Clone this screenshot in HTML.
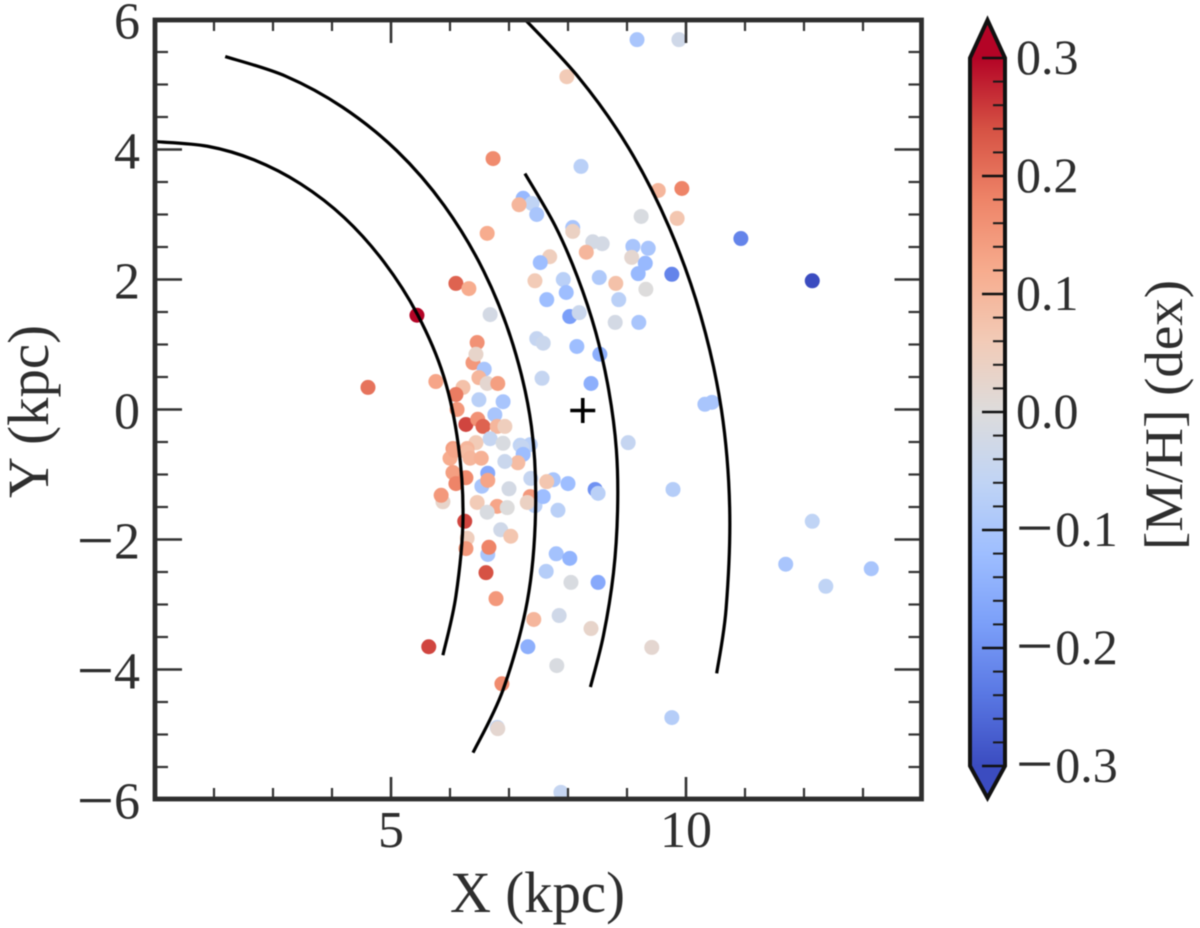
<!DOCTYPE html>
<html>
<head>
<meta charset="utf-8">
<title>Metallicity map</title>
<style>
html,body{margin:0;padding:0;background:#fff;width:1200px;height:928px;overflow:hidden}
svg{display:block;filter:blur(0.55px)}
text{font-family:"Liberation Serif",serif;fill:#2e2e2e}
</style>
</head>
<body>
<svg id="chart" width="1200" height="928" viewBox="0 0 1200 928" xmlns="http://www.w3.org/2000/svg">
<defs>
<clipPath id="plot-clip"><rect x="155" y="20" width="767" height="779"/></clipPath>
<linearGradient id="cbar-gradient" x1="0" y1="1" x2="0" y2="0"></linearGradient>
</defs>
<g id="points" clip-path="url(#plot-clip)"></g>
<g id="arms" clip-path="url(#plot-clip)"></g>
<g id="sun"></g>
<g id="axes"></g>
<g id="cbar"></g>
<text x="450" y="912" font-size="58" textLength="175" lengthAdjust="spacingAndGlyphs">X (kpc)</text>
<text transform="translate(48,498) rotate(-90)" font-size="58" textLength="173" lengthAdjust="spacingAndGlyphs">Y (kpc)</text>
<text transform="translate(1182,550) rotate(-90)" font-size="54" textLength="270" lengthAdjust="spacingAndGlyphs">[M/H] (dex)</text>
</svg>
<script>
const starX = [6.63,6.10,6.32,5.44,6.68,6.46,6.39,6.44,6.58,6.49,
6.63,6.81,5.76,4.61,6.22,6.10,6.49,6.90,6.12,6.76,
6.27,6.47,6.56,6.80,6.93,6.44,6.68,6.90,7.19,7.36,
6.05,6.29,7.56,7.47,7.58,8.15,8.54,8.39,9.02,7.44,
7.69,7.53,7.92,7.97,7.64,8.03,8.19,8.08,8.08,8.42,
8.58,8.31,9.10,9.36,9.08,9.31,9.19,8.53,8.81,9.32,
8.86,8.80,9.20,10.93,9.85,9.24,9.76,9.17,9.88,7.98,
6.73,8.22,9.53,9.93,7.24,7.39,7.17,7.47,12.14,7.22,
7.24,7.15,6.93,6.00,6.08,6.29,6.34,6.53,6.05,6.27,
6.10,6.64,6.54,6.64,7.00,7.37,7.75,7.64,8.00,8.46,
8.51,9.78,5.88,5.85,6.46,6.80,6.63,6.97,7.44,7.36,
7.58,7.31,7.83,6.25,6.86,7.03,6.29,6.27,6.64,6.66,
7.80,8.03,7.63,6.61,8.51,8.05,6.78,7.42,7.85,8.39,
5.64,7.32,9.42,7.81,6.88,6.80,6.81,7.88,9.76,12.14,
11.69,13.14,12.37,10.32,10.44];
const starY = [2.71,1.94,1.86,1.45,1.46,1.03,0.72,0.85,0.62,0.49,
0.40,0.40,0.43,0.34,0.34,0.23,0.15,0.12,0,-0.08,
-0.23,-0.15,-0.26,-0.26,-0.26,-0.51,-0.45,-0.52,-0.55,-0.54,
-0.60,-0.60,0.48,1.09,1.02,0.97,0.85,0.40,-0.51,1.98,
2.35,2.26,2.00,1.80,1.69,1.43,1.49,2.80,2.74,2.58,
2.55,2.42,2.51,2.48,2.34,2.25,2.09,2.03,1.94,1.85,
1.69,1.34,1.34,2.63,2.94,2.97,2.08,5.69,5.69,5.12,
3.86,3.74,3.37,3.40,3.25,3.17,3.15,3.00,1.98,-0.58,
-0.69,-0.82,-0.80,-0.75,-0.63,-0.66,-0.75,-0.75,-0.97,-1.05,
-1.14,-0.98,-1.18,-1.09,-1.22,-1.06,-1.08,-1.11,-1.14,-1.23,
-1.29,-1.23,-1.42,-1.32,-1.43,-1.49,-1.58,-1.51,-1.48,-1.34,
-1.34,-1.43,-1.55,-1.72,-1.85,-1.95,-1.98,-2.14,-2.23,-2.12,
-2.22,-2.29,-2.49,-2.51,-2.66,-2.66,-2.91,-3.23,-3.17,-3.37,
-3.65,-3.65,-3.66,-3.94,-4.22,-4.89,-4.91,-5.89,-4.74,-1.72,
-2.38,-2.45,-2.72,0.08,0.11];
const starMH = [0.12,0.22,0.12,0.30,-0.02,0.16,0.15,0.03,-0.10,0.10,
0.02,0.14,0.13,0.20,0.08,0.19,-0.07,-0.10,0.15,-0.10,
0.25,0.16,0.22,0.10,0.05,0.06,-0.05,-0.01,-0.06,-0.07,
0.14,0.10,-0.05,-0.05,-0.04,-0.12,-0.15,-0.15,-0.05,0.06,
0.05,-0.12,-0.07,-0.12,-0.12,-0.18,-0.04,-0.10,0.04,-0.02,
-0.02,0.10,-0.10,-0.10,0.02,-0.13,-0.13,-0.09,0.08,0,
-0.07,-0.02,-0.10,-0.22,0.07,-0.01,-0.22,-0.10,-0.03,0.06,
0.17,-0.07,0.10,0.18,-0.13,-0.06,0.10,-0.10,-0.30,-0.05,
-0.12,0.09,-0.04,0.12,0.13,0.09,0.10,0.11,0.14,0.17,
0.18,-0.16,-0.10,0.13,-0.02,-0.05,-0.10,0.07,-0.12,-0.20,
-0.07,-0.08,0.03,0.15,0.06,0.13,-0.01,0,-0.07,0.15,
-0.12,0.04,-0.07,0.25,-0.03,0.07,0.05,0.15,-0.10,0.18,
-0.11,-0.14,-0.08,0.24,-0.16,-0.01,0.15,0.10,-0.03,0.03,
0.25,-0.15,0.02,-0.01,0.17,-0.05,0.02,-0.05,-0.08,-0.06,
-0.10,-0.10,-0.06,-0.10,-0.10];

const arm1X = [1.03,1.89,2.68,3.47,4.21,4.88,5.45,5.89,6.14,6.22,6.10,5.88];
const arm1Y = [4.12,4.05,3.84,3.47,2.95,2.27,1.46,0.52,-0.54,-1.68,-2.87,-3.78];
const arm2X = [2.19,3.21,4.18,5.10,5.90,6.57,7.07,7.38,7.45,7.31,6.90,6.39];
const arm2Y = [5.43,5.13,4.65,3.98,3.14,2.13,0.99,-0.26,-1.58,-2.95,-4.31,-5.28];
const arm3X = [7.27,7.78,8.16,8.47,8.69,8.82,8.84,8.77,8.60,8.38];
const arm3Y = [3.63,2.83,2.04,1.19,0.30,-0.62,-1.56,-2.52,-3.48,-4.27];
const arm4X = [7.09,8.18,9.03,9.72,10.25,10.60,10.74,10.68,10.52];
const arm4Y = [6.17,5.11,4.02,2.79,1.44,0,-1.51,-3.06,-4.06];

const sunX = 8.25;
const sunY = 0;

const xMajorTicks = [5,10];
const xTickLabels = ['5','10'];
const xMinorTicks = [2,3,4,6,7,8,9,11,12,13];
const yMajorTicks = [-6,-4,-2,0,2,4,6];
const yTickLabels = ['\u22126','\u22124','\u22122','0','2','4','6'];
const yMinorTicks = [-5.5,-5,-4.5,-3.5,-3,-2.5,-1.5,-1,-0.5,0.5,1,1.5,2.5,3,3.5,4.5,5,5.5];
const cbarMajorTicks = [-0.3,-0.2,-0.1,0,0.1,0.2,0.3];
const cbarTickLabels = ['\u22120.3','\u22120.2','\u22120.1','0.0','0.1','0.2','0.3'];
const cbarMinorTicks = [-0.28,-0.26,-0.24,-0.22,-0.18,-0.16,-0.14,-0.12,-0.08,-0.06,-0.04,-0.02,0.02,0.04,0.06,0.08,0.12,0.14,0.16,0.18,0.22,0.24,0.26,0.28];
const coolwarmStops = ['#3b4cc0','#5977e3','#7b9ff9','#9ebeff','#c0d4f5','#dddcdc','#f2cbb7','#f7ac8e','#ee8468','#d65244','#b40426'];

const NS = 'http://www.w3.org/2000/svg';
const sx = v => 391 + (v - 5) * 59;
const sy = v => 409.5 - v * 65;
const sc = v => 412 - v * 1180;

function make(tag, parent, attrs) {
  const el = document.createElementNS(NS, tag);
  for (const k in attrs) el.setAttribute(k, attrs[k]);
  parent.appendChild(el);
  return el;
}
function hex(c) { return [1,3,5].map(i => parseInt(c.substr(i,2),16)); }
function coolwarm(m) {
  let t = (m + 0.3) / 0.6;
  t = Math.max(0, Math.min(1, t)) * (coolwarmStops.length - 1);
  const i = Math.min(Math.floor(t), coolwarmStops.length - 2);
  const f = t - i;
  const a = hex(coolwarmStops[i]), b = hex(coolwarmStops[i + 1]);
  return 'rgb(' + a.map((v, k) => Math.round(v + (b[k] - v) * f)).join(',') + ')';
}
function fillLabel(t, label, gap) {
  if (label.charAt(0) === '\u2212') {
    const minus = document.createElementNS(NS, 'tspan');
    minus.setAttribute('font-size', '66');
    minus.setAttribute('dy', '4');
    minus.textContent = '\u2212';
    t.appendChild(minus);
    const rest = document.createElementNS(NS, 'tspan');
    rest.setAttribute('dx', gap);
    rest.setAttribute('dy', '-4');
    rest.textContent = label.slice(1);
    t.appendChild(rest);
  } else {
    t.textContent = label;
  }
}

const pointsG = document.getElementById('points');
starX.forEach((x, i) => {
  const c = make('circle', pointsG, {cx: sx(x), cy: sy(starY[i]), r: 7.5, fill: coolwarm(starMH[i])});
  
  
});

function smoothPath(xs, ys) {
  const p = xs.map((x, i) => [sx(x), sy(ys[i])]);
  let d = 'M' + p[0][0] + ' ' + p[0][1];
  for (let i = 0; i < p.length - 1; i++) {
    const p0 = p[Math.max(i - 1, 0)], p1 = p[i], p2 = p[i + 1], p3 = p[Math.min(i + 2, p.length - 1)];
    d += ' C' + (p1[0] + (p2[0] - p0[0]) / 6) + ' ' + (p1[1] + (p2[1] - p0[1]) / 6) + ' ' +
         (p2[0] - (p3[0] - p1[0]) / 6) + ' ' + (p2[1] - (p3[1] - p1[1]) / 6) + ' ' + p2[0] + ' ' + p2[1];
  }
  return d;
}
const armsG = document.getElementById('arms');
[[arm1X, arm1Y], [arm2X, arm2Y], [arm3X, arm3Y], [arm4X, arm4Y]].forEach(a => {
  const l = make('path', armsG, {d: smoothPath(a[0], a[1]), fill: 'none', stroke: '#000', 'stroke-width': 3.2});
  
  
});

const sunG = document.getElementById('sun');
make('path', sunG, {
  d: 'M' + (sx(sunX) - 12.5) + ' ' + (sy(sunY) + 1) + 'h25M' + sx(sunX) + ' ' + (sy(sunY) - 11.5) + 'v25',
  stroke: '#000', 'stroke-width': 3.6, fill: 'none'
});

const axesG = document.getElementById('axes');
const L = 155, R = 921.5, T = 20, B = 799;
function tick(x1, y1, x2, y2, w) {
  const t = make('line', axesG, {x1, y1, x2, y2, stroke: '#333', 'stroke-width': w});
  
  
}
xMajorTicks.forEach(v => { tick(sx(v), B, sx(v), B - 22, 2.6); tick(sx(v), T, sx(v), T + 23, 2.6); });
xMinorTicks.forEach(v => { tick(sx(v), B, sx(v), B - 11, 2.2); tick(sx(v), T, sx(v), T + 11, 2.2); });
yMajorTicks.forEach(v => { tick(L, sy(v), L + 27, sy(v), 2.6); tick(R, sy(v), R - 27, sy(v), 2.6); });
yMinorTicks.forEach(v => { tick(L, sy(v), L + 13, sy(v), 2.2); tick(R, sy(v), R - 13, sy(v), 2.2); });
const frame = make('rect', axesG, {x: L, y: T, width: R - L, height: B - T, fill: 'none', stroke: '#2e2e2e', 'stroke-width': 4.8});



xMajorTicks.forEach((v, i) => {
  const t = make('text', axesG, {x: sx(v), y: 847, 'font-size': 52, 'text-anchor': 'middle'});
  t.textContent = xTickLabels[i];
  
  
});
yMajorTicks.forEach((v, i) => {
  const t = make('text', axesG, {x: 140, y: sy(v) + 19, 'font-size': 52, 'text-anchor': 'end'});
  fillLabel(t, yTickLabels[i], 0);
  
  
});

const grad = document.getElementById('cbar-gradient');
coolwarmStops.forEach((c, i) => {
  make('stop', grad, {offset: (i / (coolwarmStops.length - 1) * 100) + '%', 'stop-color': c});
});
const cbarG = document.getElementById('cbar');
const cL = 970, cR = 1005;
const cMid = (cL + cR) / 2;
const body = make('rect', cbarG, {x: cL, y: sc(0.3), width: cR - cL, height: sc(-0.3) - sc(0.3), fill: 'url(#cbar-gradient)'});


const upTip = make('path', cbarG, {d: 'M' + cL + ' ' + sc(0.3) + 'L' + cMid + ' 20L' + cR + ' ' + sc(0.3) + 'Z', fill: coolwarm(0.3)});


const downTip = make('path', cbarG, {d: 'M' + cL + ' ' + sc(-0.3) + 'L' + cMid + ' 798L' + cR + ' ' + sc(-0.3) + 'Z', fill: coolwarm(-0.3)});


cbarMinorTicks.forEach(v => {
  make('line', cbarG, {x1: cR, x2: cR - 12, y1: sc(v), y2: sc(v), stroke: '#1a1a1a', 'stroke-width': 2});
});
cbarMajorTicks.forEach((v, i) => {
  make('line', cbarG, {x1: cR, x2: cR - 23, y1: sc(v), y2: sc(v), stroke: '#111', 'stroke-width': 2.4});
  const t = make('text', cbarG, {x: 1016, y: sc(v) + 16, 'font-size': 50});
  fillLabel(t, cbarTickLabels[i], 2);
  
  
});
const outline = make('path', cbarG, {
  d: 'M' + cL + ' ' + sc(0.3) + 'L' + cMid + ' 20L' + cR + ' ' + sc(0.3) + 'L' + cR + ' ' + sc(-0.3) + 'L' + cMid + ' 798L' + cL + ' ' + sc(-0.3) + 'Z',
  fill: 'none', stroke: '#111', 'stroke-width': 4, 'stroke-linejoin': 'miter'
});


</script>
</body>
</html>
